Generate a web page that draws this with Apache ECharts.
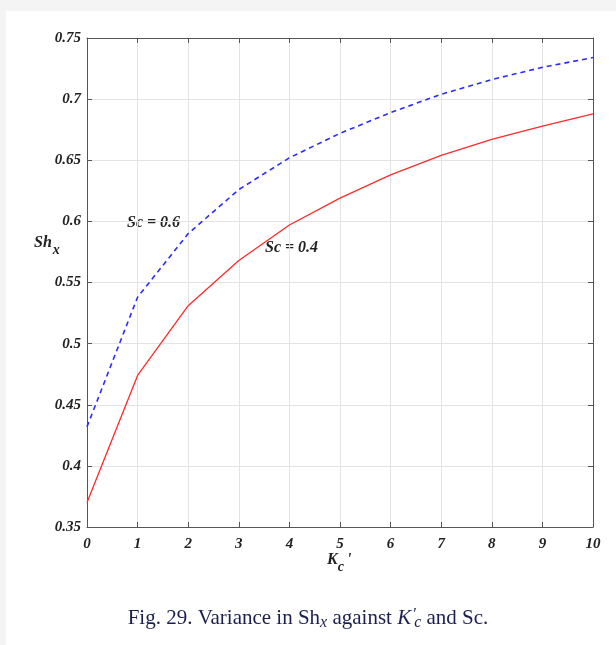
<!DOCTYPE html>
<html>
<head>
<meta charset="utf-8">
<script src="https://cdn.jsdelivr.net/npm/echarts@6/dist/echarts.min.js"></script>
<style>
  html, body { margin: 0; padding: 0; background: #ffffff; }
  #chart { width: 616px; height: 645px; }
</style>
</head>
<body>
<div id="chart"></div>
<script>
// K_c' values along the horizontal axis
const kcValues = [0, 1, 2, 3, 4, 5, 6, 7, 8, 9, 10];
// Sherwood number for the two Schmidt numbers
const shSc04 = [0.370, 0.474, 0.531, 0.568, 0.597, 0.619, 0.638, 0.654, 0.667, 0.678, 0.688];
const shSc06 = [0.432, 0.538, 0.590, 0.626, 0.652, 0.672, 0.689, 0.704, 0.716, 0.726, 0.734];
// Tick positions
const xTicks = [0, 1, 2, 3, 4, 5, 6, 7, 8, 9, 10];
const yTicks = [0.35, 0.4, 0.45, 0.5, 0.55, 0.6, 0.65, 0.7, 0.75];

const serif = '"Liberation Serif", "DejaVu Serif", serif';
const axisColor = '#555555';
const tickFont = { fontFamily: serif, fontStyle: 'italic', fontWeight: 'bold', fontSize: 15, color: '#222' };
const capColor = '#1b1f4f';

const chart = echarts.init(document.getElementById('chart'));

const pairs = arr => kcValues.map((k, i) => [k, arr[i]]);

const baseX = {
  type: 'value', min: xTicks[0], max: xTicks[xTicks.length - 1], interval: 1,
  axisLine: { show: true, onZero: false, lineStyle: { color: axisColor, width: 1 } },
  axisTick: { show: true, inside: true, length: 5, lineStyle: { color: axisColor } }
};
const baseY = {
  type: 'value', min: yTicks[0], max: yTicks[yTicks.length - 1], interval: 0.05,
  axisLine: { show: true, onZero: false, lineStyle: { color: axisColor, width: 1 } },
  axisTick: { show: true, inside: true, length: 5, lineStyle: { color: axisColor } }
};

chart.setOption({
  animation: false,
  backgroundColor: '#ffffff',
  grid: { left: 87, right: 23, top: 38, bottom: 118, containLabel: false },
  xAxis: [
    Object.assign({}, baseX, {
      position: 'bottom',
      axisLabel: Object.assign({ margin: 10, formatter: v => String(v) }, tickFont),
      splitLine: { show: true, lineStyle: { color: '#e3e3e3', width: 1 } }
    }),
    Object.assign({}, baseX, {
      position: 'top',
      axisLabel: { show: false },
      splitLine: { show: false }
    })
  ],
  yAxis: [
    Object.assign({}, baseY, {
      position: 'left',
      axisLabel: Object.assign({ margin: 6, formatter: v => String(+v.toFixed(2)) }, tickFont),
      splitLine: { show: true, lineStyle: { color: '#e3e3e3', width: 1 } }
    }),
    Object.assign({}, baseY, {
      position: 'right',
      axisLabel: { show: false },
      splitLine: { show: false }
    })
  ],
  series: [
    {
      name: 'Sc = 0.4', type: 'line', data: pairs(shSc04),
      showSymbol: false, symbol: 'none',
      lineStyle: { color: '#ff2a2a', width: 1.3, type: 'solid' }
    },
    {
      name: 'Sc = 0.6', type: 'line', data: pairs(shSc06),
      showSymbol: false, symbol: 'none',
      lineStyle: { color: '#2b2bff', width: 1.6, type: [5, 4] }
    }
  ],
  graphic: [
    // faint page margins
    { type: 'rect', left: 0, top: 0, z: -10, shape: { width: 616, height: 11 }, style: { fill: '#f4f4f4' } },
    { type: 'rect', left: 0, top: 0, z: -10, shape: { width: 6, height: 645 }, style: { fill: '#f4f4f4' } },
    {
      type: 'text', left: 127, top: 215,
      style: { text: 'Sc = 0.6', font: 'italic bold 16px ' + serif, fill: '#222' }
    },
    {
      type: 'text', left: 265, top: 240,
      style: { text: 'Sc = 0.4', font: 'italic bold 16px ' + serif, fill: '#222' }
    },
    {
      type: 'text', left: 34, top: 235,
      style: {
        text: '{b|Sh}{s|x}',
        rich: {
          b: { font: 'italic bold 16px ' + serif, fill: '#222' },
          s: { font: 'italic bold 14px ' + serif, fill: '#222', padding: [15, 0, 0, 1] }
        }
      }
    },
    {
      type: 'text', left: 327, top: 552,
      style: {
        text: '{b|K}{s|c}{p|\'}',
        rich: {
          b: { font: 'italic bold 16px ' + serif, fill: '#222' },
          s: { font: 'italic bold 14px ' + serif, fill: '#222', padding: [15, 0, 0, 0] },
          p: { font: 'italic bold 16px ' + serif, fill: '#222', padding: [0, 0, 0, 3] }
        }
      }
    },
    {
      type: 'text', left: 'center', top: 607,
      style: {
        text: '{t|Fig. 29. Variance in Sh}{si|x}{t| against }{i|K}{sp|\u2032}{sc|c}{t| and Sc.}',
        rich: {
          t: { font: '21px ' + serif, fill: capColor },
          si: { font: 'italic 16px ' + serif, fill: capColor, padding: [10, 0, 0, 0] },
          i: { font: 'italic 21px ' + serif, fill: capColor },
          sp: { font: '16px ' + serif, fill: capColor, width: 1, padding: [0, 0, 6, 2] },
          sc: { font: 'italic 16px ' + serif, fill: capColor, padding: [10, 0, 0, 0] }
        }
      }
    }
  ]
});
</script>
</body>
</html>
